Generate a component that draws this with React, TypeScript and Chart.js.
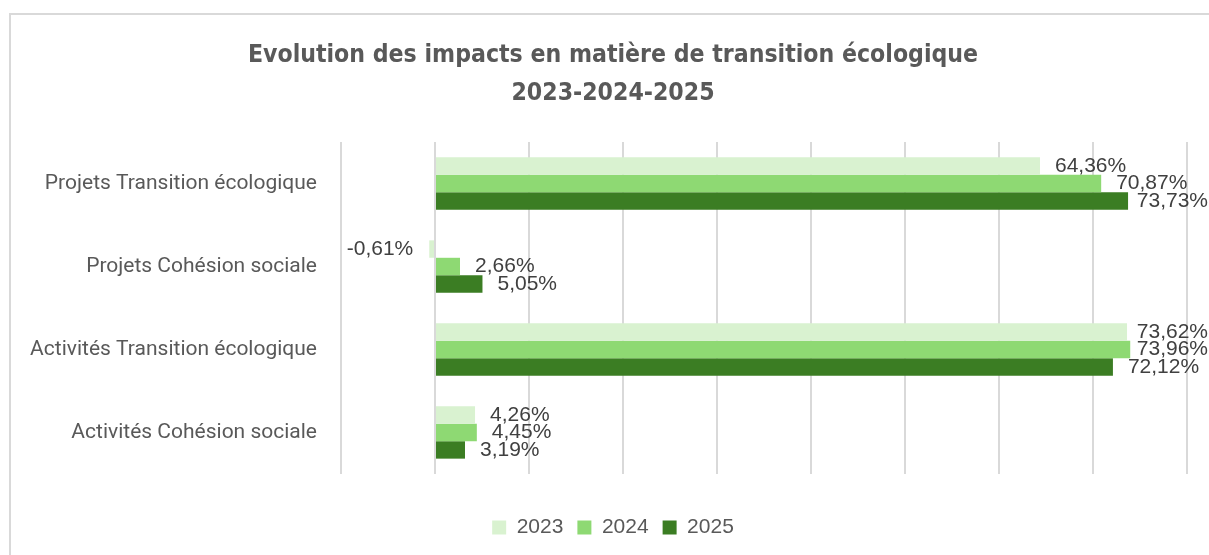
import React, { useEffect, useRef } from "react";
import { Chart, registerables } from "chart.js";

Chart.register(...registerables);

const categories = [
  "Projets Transition écologique",
  "Projets Cohésion sociale",
  "Activités Transition écologique",
  "Activités Cohésion sociale",
];
const seriesNames = ["2023", "2024", "2025"];
const values2023 = [64.36, -0.61, 73.62, 4.26];
const values2024 = [70.87, 2.66, 73.96, 4.45];
const values2025 = [73.73, 5.05, 72.12, 3.19];
const seriesColors = ["#D9F2D0", "#8ED973", "#3B7D23"];
const titleLines = [
  "Evolution des impacts en matière de transition écologique",
  "2023-2024-2025",
];
const xMin = -10;
const xMax = 80;
const xStep = 10;

const W = 1209;
const H = 555;

const fmt = (v: number) => v.toFixed(2).replace(".", ",") + "%";

const labelPlugin = {
  id: "barLabels",
  afterLayout(chart: any) {
    // let the long category labels extend beyond the left layout padding
    if (chart.scales.y) chart.scales.y.left = 0;
  },
  afterDatasetsDraw(chart: any) {
    const ctx = chart.ctx;
    ctx.save();
    ctx.font = '21px "Liberation Sans", Arial, sans-serif';
    ctx.fillStyle = "#404040";
    ctx.textBaseline = "middle";
    chart.data.datasets.forEach((ds: any, di: number) => {
      const meta = chart.getDatasetMeta(di);
      meta.data.forEach((el: any, i: number) => {
        const v = ds.data[i] as number;
        const text = fmt(v);
        const w = ctx.measureText(text).width;
        if (v >= 0) {
          let x = el.x + 15;
          if (x + w > W - 1) x = W - 1 - w;
          ctx.textAlign = "left";
          ctx.fillText(text, x, el.y);
        } else {
          ctx.textAlign = "right";
          ctx.fillText(text, el.x - 16, el.y);
        }
      });
    });
    ctx.restore();
  },
};

const titleSize = 24.6;

export default function App() {
  const ref = useRef<HTMLCanvasElement | null>(null);

  useEffect(() => {
    if (!ref.current) return;
    const datasets = [values2023, values2024, values2025].map((vals, i) => ({
      label: seriesNames[i],
      data: vals,
      backgroundColor: seriesColors[i],
      borderWidth: 0,
      categoryPercentage: 0.63,
      barPercentage: 1,
    }));
    const chart = new Chart(ref.current, {
      type: "bar",
      data: { labels: categories, datasets },
      options: {
        indexAxis: "y",
        animation: false,
        responsive: false,
        devicePixelRatio: 1,
        layout: { padding: { left: 39, right: 22, top: 0, bottom: 7 } },
        plugins: {
          title: {
            display: true,
            text: titleLines,
            color: "#595959",
            font: {
              family: '"Liberation Sans Narrow", "DejaVu Sans Condensed", Roboto, sans-serif',
              size: titleSize,
              weight: "bold",
              lineHeight: 38 / titleSize,
            },
            padding: { top: 37, bottom: 29 },
          },
          legend: {
            position: "bottom",
            labels: {
              boxWidth: 14,
              boxHeight: 14,
              padding: 14,
              color: "#595959",
              font: { family: '"Liberation Sans", Arial, sans-serif', size: 21 },
            },
          },
          tooltip: { enabled: false },
        },
        scales: {
          x: {
            min: xMin,
            max: xMax,
            ticks: { display: false, stepSize: xStep },
            grid: { color: "#D9D9D9", lineWidth: 2, drawTicks: false },
            border: { display: false },
            afterFit: (axis: any) => {
              axis.height = 29;
            },
          },
          y: {
            grid: { display: false, drawTicks: false },
            border: { display: false },
            ticks: {
              color: "#595959",
              padding: 24,
              font: { family: "Roboto, sans-serif", size: 21 },
            },
            afterFit: (axis: any) => {
              axis.width = 302;
            },
          },
        },
      },
      plugins: [labelPlugin],
    });
    return () => chart.destroy();
  }, []);

  return (
    <div style={{ position: "fixed", left: 0, top: 0, width: W, height: H, background: "#fff", overflow: "hidden" }}>
      <div
        style={{
          position: "absolute",
          left: 9,
          top: 13,
          width: W + 20,
          height: H + 20,
          border: "2px solid #D9D9D9",
          boxSizing: "border-box",
        }}
      />
      <canvas ref={ref} width={W} height={H} style={{ position: "absolute", left: 0, top: 0 }} />
    </div>
  );
}
